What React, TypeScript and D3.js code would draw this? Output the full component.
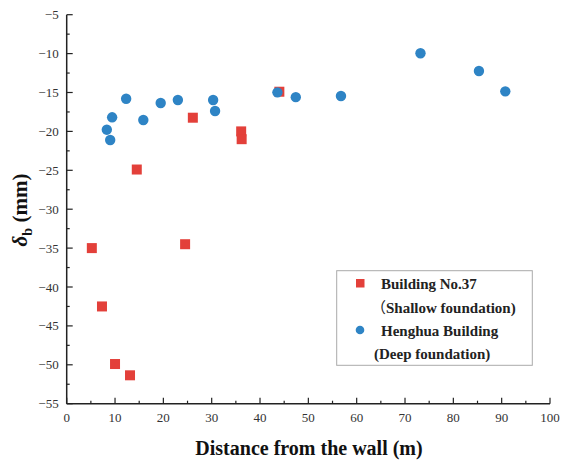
import React from "react";
import * as d3 from "d3";

const shallowX = [5.2, 7.3, 10.0, 13.1, 14.5, 24.5, 26.1, 36.1, 36.2, 44.0];
const shallowY = [-35.0, -42.5, -49.9, -51.35, -24.9, -34.5, -18.24, -20.0, -21.0, -14.9];
const deepX = [8.3, 9.0, 9.4, 12.3, 15.85, 19.45, 23.0, 30.3, 30.7, 43.6, 47.4, 56.75, 73.2, 85.3, 90.75];
const deepY = [-19.78, -21.1, -18.19, -15.8, -18.53, -16.35, -15.96, -15.96, -17.38, -14.98, -15.6, -15.45, -9.96, -12.24, -14.85];
const xTicks = [0, 10, 20, 30, 40, 50, 60, 70, 80, 90, 100];
const yTicks = [-5, -10, -15, -20, -25, -30, -35, -40, -45, -50, -55];

const W = 570, H = 467;
const RED = "#E3403A";
const BLUE = "#2E84C5";

export default function App() {
  const x = d3.scaleLinear().domain([0, 100]).range([66.7, 550]);
  const y = d3.scaleLinear().domain([-55, -5]).range([403.7, 14.7]);
  const xMinor = d3.range(5, 100, 10);
  const yMinor = d3.range(-52.5, -5, 5);
  const font = "'Liberation Serif', 'Times New Roman', serif";
  return (
    <svg width={W} height={H} style={{ position: "absolute", left: 0, top: 0, background: "#fff" }} fontFamily={font}>
      {/* axes */}
      <line x1={x(0)} x2={x(100)} y1={y(-55)} y2={y(-55)} stroke="#222" strokeWidth={1.5} />
      <line x1={x(0)} x2={x(0)} y1={y(-55)} y2={y(-5)} stroke="#222" strokeWidth={1.5} />
      {xTicks.map((t) => (
        <g key={"xt" + t}>
          <line x1={x(t)} x2={x(t)} y1={y(-55)} y2={y(-55) - 6} stroke="#222" strokeWidth={1.2} />
          <text x={x(t)} y={422} textAnchor="middle" fontSize={13} fill="#333">{t}</text>
        </g>
      ))}
      {xMinor.map((t) => (
        <line key={"xm" + t} x1={x(t)} x2={x(t)} y1={y(-55)} y2={y(-55) - 3} stroke="#222" strokeWidth={1.2} />
      ))}
      {yTicks.map((t) => (
        <g key={"yt" + t}>
          <line x1={x(0)} x2={x(0) + 6} y1={y(t)} y2={y(t)} stroke="#222" strokeWidth={1.2} />
          <text x={x(0) - 8} y={y(t) + 4.5} textAnchor="end" fontSize={13} fill="#333">{"\u2212" + Math.abs(t)}</text>
        </g>
      ))}
      {yMinor.map((t) => (
        <line key={"ym" + t} x1={x(0)} x2={x(0) + 3} y1={y(t)} y2={y(t)} stroke="#222" strokeWidth={1.2} />
      ))}
      {/* axis titles */}
      <text x={309} y={455} textAnchor="middle" fontSize={20} fontWeight="bold" fill="#111">Distance from the wall (m)</text>
      <text transform="translate(27,210) rotate(-90)" textAnchor="middle" fontSize={21} fontWeight="bold" fill="#111">
        <tspan fontStyle="italic">δ</tspan>
        <tspan fontSize={14} dy={5}>b</tspan>
        <tspan dy={-5}> (mm)</tspan>
      </text>
      {/* data */}
      {shallowX.map((v, i) => (
        <rect key={"s" + i} x={x(v) - 5} y={y(shallowY[i]) - 5} width={10} height={10} fill={RED} />
      ))}
      {deepX.map((v, i) => (
        <circle key={"d" + i} cx={x(v)} cy={y(deepY[i])} r={5.2} fill={BLUE} />
      ))}
      {/* legend */}
      <rect x={336.7} y={270.7} width={195.6} height={94.6} fill="#fff" stroke="#aaa" strokeWidth={1} />
      <rect x={356} y={279} width={8.5} height={8.5} fill={RED} />
      <text x={381} y={289} fontSize={15} fontWeight="bold" fill="#222">Building No.37</text>
      <text x={371} y={313} fontSize={15} fontWeight="bold" fill="#222">
        <tspan fontFamily="'Noto Sans CJK SC'" fontWeight="normal">（</tspan>Shallow foundation)
      </text>
      <circle cx={360} cy={330} r={4.3} fill={BLUE} />
      <text x={381} y={336} fontSize={15} fontWeight="bold" fill="#222">Henghua Building</text>
      <text x={374} y={359} fontSize={15} fontWeight="bold" fill="#222">(Deep foundation)</text>
    </svg>
  );
}
